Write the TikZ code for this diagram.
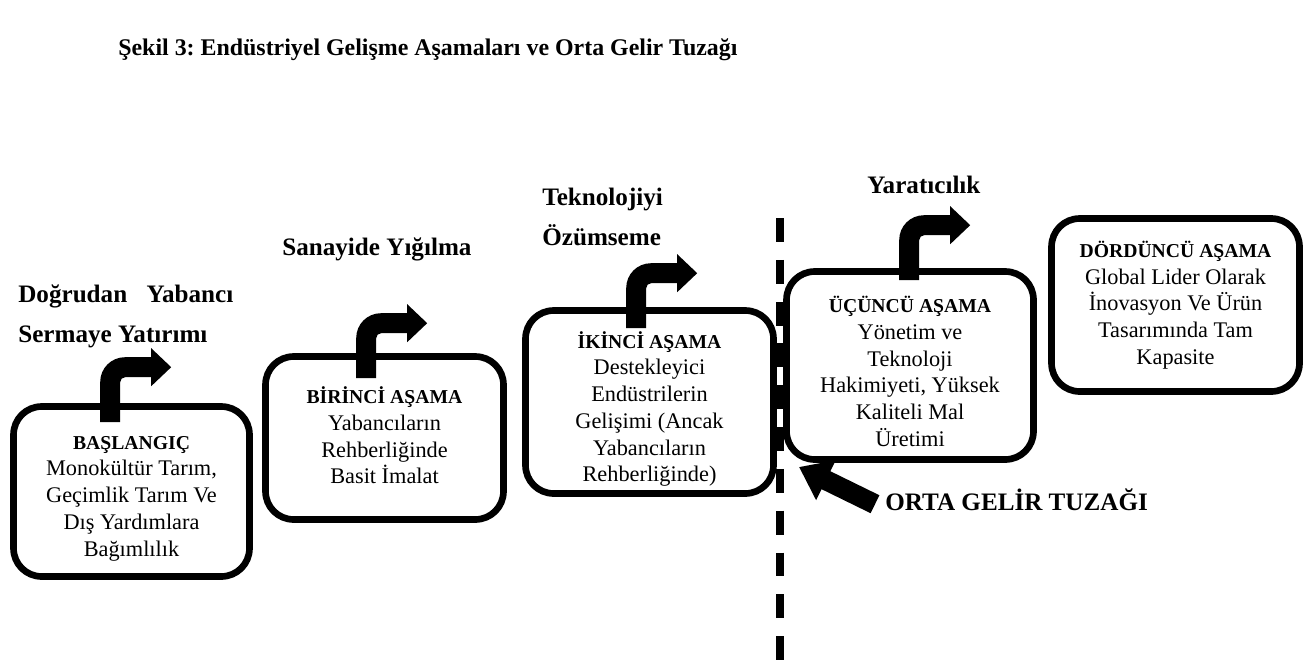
\documentclass[tikz,border=0pt]{standalone}
\usepackage{fontspec}
\setmainfont{Liberation Serif}
\usetikzlibrary{arrows.meta,calc}
\frenchspacing

\tikzset{
  stage/.style={draw, line width=3.8pt, rounded corners=16pt, inner sep=0pt},
  stagetext/.style={align=center, inner sep=0pt, font=\fontsize{12.7}{15.2}\selectfont},
  steplabel/.style={anchor=base west, inner sep=0pt, font=\bfseries\fontsize{14.3}{16}\selectfont},
  bentarrow/.pic={
    \fill (-10,0) -- (-10,-40) .. controls (-10,-54) and (1,-65) .. (15,-65)
      -- (41,-65) -- (41,-74) -- (61,-55) -- (41,-36) -- (41,-45) -- (15,-45)
      .. controls (12.2,-45) and (10,-42.8) .. (10,-40) -- (10,0) -- cycle;
  },
  trapline/.style={line width=0.4cm, -{Triangle[length=6mm 0 0, width=8.5mm 0 0]}},
  divider/.style={line width=4pt, dash pattern=on 13.6pt off 10.2pt},
}
\newcommand{\stagehead}[1]{{\fontsize{11.2}{15.2}\selectfont\bfseries #1}}

\begin{document}
\begin{tikzpicture}[x=0.02cm, y=-0.02cm]
  \useasboundingbox (0,0) rectangle (1307,663);

  \node[steplabel, font=\bfseries\fontsize{13.6}{15}\selectfont] (title) at (118,55)
    {Şekil 3: Endüstriyel Gelişme Aşamaları ve Orta Gelir Tuzağı};

  % stages
  \node[stage, minimum width=4.72cm, minimum height=3.4cm] (start) at (131.5,491.5) {};
  \node[stagetext] (startText) at ([yshift=-0.14cm]start.center)
    {\stagehead{BAŞLANGIÇ}\\Monokültür Tarım,\\Geçimlik Tarım Ve\\Dış Yardımlara\\Bağımlılık};
  \node[stage, minimum width=4.76cm, minimum height=3.26cm] (first) at (384.5,438) {};
  \node[stagetext] (firstText) at ([yshift=0.05cm]first.center)
    {\stagehead{BİRİNCİ AŞAMA}\\Yabancıların\\Rehberliğinde\\Basit İmalat};
  \node[stage, minimum width=4.96cm, minimum height=3.66cm] (second) at (649.5,402) {};
  \node[stagetext] (secondText) at ([yshift=-0.14cm]second.center)
    {\stagehead{İKİNCİ AŞAMA}\\Destekleyici\\Endüstrilerin\\Gelişimi (Ancak\\Yabancıların\\Rehberliğinde)};
  \node[stage, minimum width=4.94cm, minimum height=3.76cm] (third) at (910,365.5) {};
  \node[stagetext] (thirdText) at ([yshift=-0.12cm]third.center)
    {\stagehead{ÜÇÜNCÜ AŞAMA}\\Yönetim ve\\Teknoloji\\Hakimiyeti, Yüksek\\Kaliteli Mal\\Üretimi};
  \node[stage, minimum width=4.96cm, minimum height=3.46cm] (fourth) at (1175.5,305) {};
  \node[stagetext] (fourthText) at (fourth.center)
    {\stagehead{DÖRDÜNCÜ AŞAMA}\\Global Lider Olarak\\İnovasyon Ve Ürün\\Tasarımında Tam\\Kapasite};

  % bent arrows on top of the boxes
  \pic at ($(start.north west)+(100,19)$) {bentarrow};
  \pic at ($(first.north west)+(104,25)$) {bentarrow};
  \pic at ($(second.north west)+(114,21)$) {bentarrow};
  \pic at ($(third.north west)+(126,12)$) {bentarrow};

  \node[steplabel] (fdiTop) at (18,302) {\makebox[4.3cm][s]{Doğrudan Yabancı}};
  \node[steplabel] (fdiBottom) at (18,342) {Sermaye Yatırımı};
  \node[steplabel] (agglo) at (282,255) {Sanayide Yığılma};
  \node[steplabel] (techTop) at (542,205) {Teknolojiyi};
  \node[steplabel] (techBottom) at (542,245) {Özümseme};
  \node[steplabel] (creat) at (867,193) {Yaratıcılık};

  % middle income trap
  \coordinate (lineTop) at (780,218);
  \coordinate (lineBottom) at (780,662);
  \draw[divider] (lineTop) -- (lineBottom);
  \node[steplabel] (trap) at (885,510) {ORTA GELİR TUZAĞI};
  \coordinate (trapTip) at (799,467);
  \draw[trapline] ([xshift=-0.2cm, yshift=-0.1cm]trap.west) -- (trapTip);
\end{tikzpicture}
\end{document}
